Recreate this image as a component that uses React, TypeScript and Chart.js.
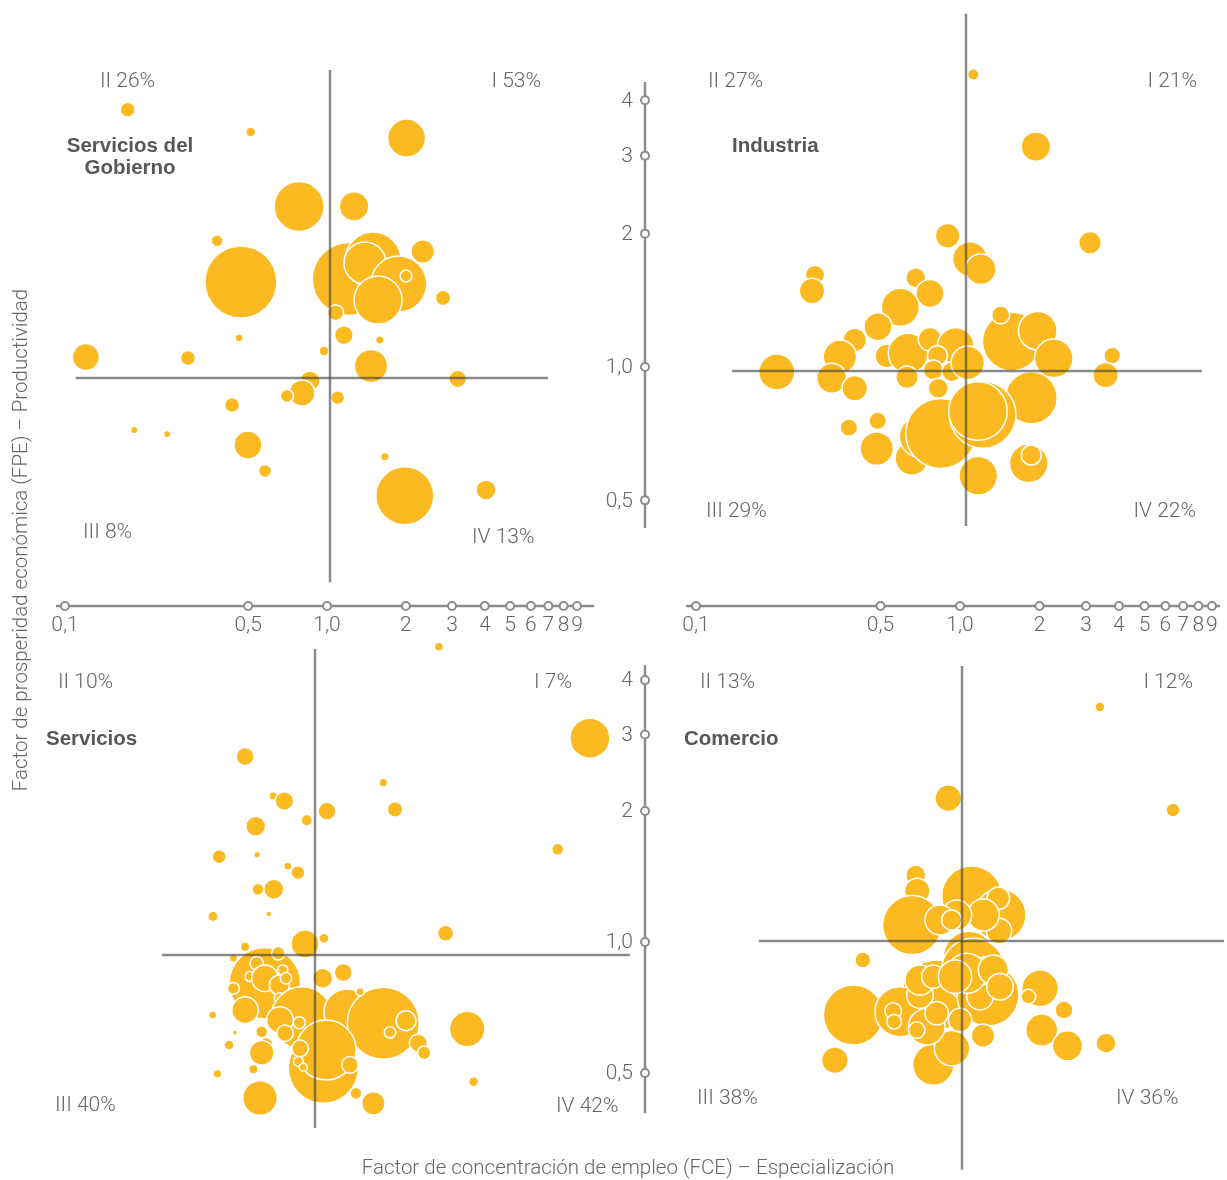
import React, { useEffect, useRef } from "react";
import { Chart, registerables } from "chart.js";

Chart.register(...registerables);

const W = 1227;
const H = 1180;

// ---------- DATA ----------
// Servicios del Gobierno
const gobiernoFCE = [0.169, 0.498, 1.96, 0.762, 1.235, 0.371, 2.26, 0.457, 1.18, 1.46, 1.36, 1.83, 1.525, 1.95, 1.05, 2.7, 1.13, 1.55, 0.45, 0.117, 0.287, 0.949, 1.434, 3.07, 0.839, 0.782, 0.685, 1.07, 0.423, 0.179, 0.239, 0.486, 0.565, 1.62, 1.93, 3.94];
const gobiernoFPE = [4.03, 3.59, 3.48, 2.44, 2.44, 2.04, 1.93, 1.647, 1.673, 1.846, 1.818, 1.63, 1.5, 1.7, 1.404, 1.516, 1.25, 1.218, 1.231, 1.115, 1.11, 1.15, 1.064, 0.995, 0.985, 0.925, 0.911, 0.903, 0.869, 0.763, 0.747, 0.706, 0.617, 0.664, 0.542, 0.559];
const gobiernoTam = [7.5, 5, 19, 25, 14.7, 6, 11.7, 36, 36.6, 28, 21, 28, 24, 6, 8, 7.7, 9.4, 4.3, 4, 13.5, 7.5, 5, 16.6, 8.7, 10, 13, 6.5, 7, 7.5, 3.7, 3.7, 14, 6.5, 4.3, 29, 10];
const gobiernoCuadrantes = ["I 53%", "II 26%", "III 8%", "IV 13%"];

// Industria
const industriaFCE = [1.066, 1.84, 0.852, 1.035, 1.137, 2.95, 0.268, 0.261, 0.645, 0.73, 0.564, 0.464, 0.379, 0.333, 0.31, 0.379, 0.192, 0.501, 0.604, 0.73, 0.914, 0.779, 0.598, 0.752, 0.883, 1.015, 0.785, 1.49, 1.353, 1.87, 2.15, 3.58, 3.38, 1.767, 0.463, 0.36, 0.459, 0.623, 0.67, 0.802, 1.157, 1.11, 1.113, 1.728, 1.767];
const industriaFPE = [4.67, 3.21, 2.02, 1.79, 1.697, 1.948, 1.647, 1.516, 1.624, 1.497, 1.393, 1.259, 1.175, 1.077, 0.963, 0.914, 0.995, 1.081, 1.096, 1.179, 1.139, 1.083, 0.968, 1.005, 0.996, 1.044, 0.914, 1.165, 1.338, 1.233, 1.068, 1.083, 0.979, 0.87, 0.772, 0.745, 0.668, 0.635, 0.711, 0.723, 0.796, 0.812, 0.58, 0.619, 0.646];
const industriaTam = [5.7, 14.7, 12.3, 17.3, 15.3, 11.3, 9.7, 12.7, 10, 14, 19, 14, 11.7, 16.7, 15, 12.7, 18, 11.7, 20, 11.7, 18.3, 10, 11.3, 10, 10, 16.7, 10, 29.3, 9, 19.3, 19.3, 8.3, 12.7, 26, 8.7, 8.7, 16.7, 16.7, 20.7, 35, 33.3, 29.3, 19.3, 19.3, 10];
const industriaCuadrantes = ["I 21%", "II 27%", "III 29%", "IV 22%"];

// Servicios
const serviciosFCE = [11.2, 2.97, 0.541, 0.693, 0.764, 1.111, 0.93, 1.823, 2.02, 0.594, 0.431, 0.602, 0.787, 0.861, 8.44, 0.606, 0.696, 0.408, 0.667, 3.15, 0.916, 1.082, 0.541, 0.488, 0.644, 0.599, 0.724, 0.565, 0.644, 0.731, 0.753, 0.775, 0.488, 0.735, 0.541, 1.07, 1.282, 0.943, 0.892, 1.325, 1.823, 2.225, 1.933, 1.485, 0.735, 0.871, 0.768, 0.626, 0.495, 0.407, 0.47, 0.65, 0.626, 0.582, 0.424, 0.617, 1.076, 1.102, 0.877, 0.864, 0.902, 1.36, 1.434, 1.67, 2.48, 2.61, 3.81, 4.03];
const serviciosFPE = [3.15, 5.11, 2.86, 2.32, 2.26, 2.14, 2.04, 2.49, 2.16, 1.976, 1.683, 1.701, 1.599, 1.546, 1.75, 1.416, 1.416, 1.227, 1.242, 1.122, 1.06, 1.092, 1.045, 0.983, 0.861, 0.957, 1.009, 0.892, 0.884, 0.853, 0.924, 0.884, 0.838, 0.795, 0.747, 0.884, 0.911, 0.795, 0.717, 0.74, 0.697, 0.706, 0.664, 0.823, 0.709, 0.699, 0.661, 0.666, 0.663, 0.728, 0.621, 0.624, 0.596, 0.546, 0.533, 0.469, 0.549, 0.605, 0.61, 0.569, 0.552, 0.559, 0.481, 0.456, 0.627, 0.596, 0.676, 0.511];
const serviciosTam = [20, 4.5, 9, 4.3, 9.3, 9, 5.7, 4.3, 7.7, 10, 7, 3.3, 4, 7, 6, 6, 10, 5.3, 3, 8, 14, 5, 4.7, 4, 35.7, 6.7, 6.7, 5, 13.3, 10, 5, 5.7, 6, 5.7, 13.3, 10, 9, 3.3, 31, 23, 36, 10, 5.7, 4, 13.3, 6, 8.3, 6, 2.7, 4, 5, 6.7, 12.3, 4.7, 4.3, 17.3, 35, 30, 8.3, 5, 4, 8.3, 6, 11.7, 9, 6.7, 17.7, 5];
const serviciosCuadrantes = ["I 7%", "II 10%", "III 40%", "IV 42%"];

// Comercio
const comercioFCE = [3.33, 6.3, 0.887, 0.668, 0.677, 0.647, 1.088, 1.393, 1.373, 1.381, 1.204, 0.955, 0.825, 0.914, 1.063, 0.421, 0.802, 1.104, 1.254, 1.24, 0.388, 0.582, 0.549, 0.553, 1.975, 1.783, 2.435, 2.004, 2.51, 0.33, 0.779, 0.917, 1.201, 0.735, 0.693, 0.802, 0.674, 0.983, 1.17, 1.042, 1.314, 1.393, 0.693, 0.779, 0.941, 3.51];
const comercioFPE = [3.45, 2.0, 2.13, 1.418, 1.303, 1.088, 1.269, 1.147, 1.254, 1.054, 1.147, 1.147, 1.118, 1.118, 0.92, 0.904, 0.751, 0.858, 0.751, 0.835, 0.676, 0.688, 0.69, 0.652, 0.778, 0.745, 0.694, 0.624, 0.574, 0.532, 0.52, 0.567, 0.606, 0.635, 0.751, 0.682, 0.624, 0.658, 0.745, 0.843, 0.858, 0.785, 0.813, 0.828, 0.828, 0.583];
const comercioTam = [5, 7, 13.3, 10, 12.7, 29.5, 30, 26, 11.3, 12.7, 16, 15, 15, 10, 25.5, 8, 35, 31.7, 31, 18.3, 30, 25, 8.3, 7.3, 18.3, 7.3, 9, 16, 15, 13.3, 20.7, 17.7, 11.7, 18.3, 13.3, 11.7, 8.3, 11.7, 13.3, 20, 15, 13.3, 15, 11.7, 16.7, 10];
const comercioCuadrantes = ["I 12%", "II 13%", "III 38%", "IV 36%"];

// Axis ticks
const xTicks = [0.1, 0.5, 1, 2, 3, 4, 5, 6, 7, 8, 9];
const xTickLabels = ["0,1", "0,5", "1,0", "2", "3", "4", "5", "6", "7", "8", "9"];
const yTicks = [4, 3, 2, 1, 0.5];
const yTickLabels = ["4", "3", "2", "1,0", "0,5"];

const xTitle = "Factor de concentración de empleo (FCE) – Especialización";
const yTitle = "Factor de prosperidad económica (FPE) – Productividad";

// ---------- LAYOUT / STYLE ----------
const BUBBLE = "#FBBA21";
const CROSS = "rgba(60,60,60,0.6)";
const AXIS = "#8c8c8c";
const TEXT = "#666666";
const TITLE = "#575757";
const LIGHT_FONT = '300 21px Roboto, "Liberation Sans", Arial, sans-serif';
const BOLD_FONT = 'bold 20.5px "Liberation Sans", Arial, sans-serif';
const AXIS_TITLE_FONT = '300 20.5px Roboto, "Liberation Sans", Arial, sans-serif';

// pixel anchor of value 1 and pixels per decade for each log scale
const xRange = (c: number, d: number) => ({ min: Math.pow(10, -c / d), max: Math.pow(10, (W - c) / d) });
const yRange = (c: number, d: number) => ({ min: Math.pow(10, (c - H) / d), max: Math.pow(10, c / d) });

type Panel = {
  id: string;
  title: string[];
  titlePos: [number, number, CanvasTextAlign];
  fce: number[];
  fpe: number[];
  tam: number[];
  quads: string[];
  quadPos: [number, number, CanvasTextAlign][];
  xs: { c: number; d: number };
  ys: { c: number; d: number };
  vLine: [number, number];
  hLine: [number, number];
};

const panels: Panel[] = [
  {
    id: "tl",
    title: ["Servicios del", "Gobierno"],
    titlePos: [130, 146, "center"],
    fce: gobiernoFCE, fpe: gobiernoFPE, tam: gobiernoTam, quads: gobiernoCuadrantes,
    quadPos: [[541, 82, "right"], [100, 82, "left"], [83, 533, "left"], [472, 538, "left"]],
    xs: { c: 330, d: 262 }, ys: { c: 378, d: 443 },
    vLine: [0.346, 4.96], hLine: [0.107, 6.79],
  },
  {
    id: "tr",
    title: ["Industria"],
    titlePos: [732, 146, "left"],
    fce: industriaFCE, fpe: industriaFPE, tam: industriaTam, quads: industriaCuadrantes,
    quadPos: [[1197, 82, "right"], [708, 82, "left"], [706, 512, "left"], [1196, 512, "right"]],
    xs: { c: 966, d: 264 }, ys: { c: 371, d: 443 },
    vLine: [0.447, 6.4], hLine: [0.13, 7.83],
  },
  {
    id: "bl",
    title: ["Servicios"],
    titlePos: [46, 739, "left"],
    fce: serviciosFCE, fpe: serviciosFPE, tam: serviciosTam, quads: serviciosCuadrantes,
    quadPos: [[572, 683, "right"], [58, 683, "left"], [55, 1106, "left"], [556, 1107, "left"]],
    xs: { c: 315, d: 262 }, ys: { c: 955, d: 435 },
    vLine: [0.4, 5.05], hLine: [0.261, 15.9],
  },
  {
    id: "br",
    title: ["Comercio"],
    titlePos: [684, 739, "left"],
    fce: comercioFCE, fpe: comercioFPE, tam: comercioTam, quads: comercioCuadrantes,
    quadPos: [[1193, 683, "right"], [700, 683, "left"], [697, 1099, "left"], [1116, 1099, "left"]],
    xs: { c: 962, d: 264 }, ys: { c: 941, d: 435 },
    vLine: [0.298, 4.29], hLine: [0.17, 9.83],
  },
];

// shared axes with tick circles
const axisRow = 606;
const axisCol = 645;
const xAxes = [
  { id: "axXL", c: 327, d: 262, span: [0.0924, 10.45] },
  { id: "axXR", c: 960, d: 264, span: [0.0917, 9.66] },
];
const yAxes = [
  { id: "axYT", c: 367, d: 443, span: [0.433, 4.4] },
  { id: "axYB", c: 942, d: 435, span: [0.404, 4.33] },
];

const decorPlugin = {
  id: "decor",
  afterDatasetsDraw(chart: any) {
    const ctx: CanvasRenderingContext2D = chart.ctx;
    const s = chart.scales;
    ctx.save();
    // axis lines
    ctx.strokeStyle = AXIS;
    ctx.lineWidth = 2.5;
    xAxes.forEach((a) => {
      const sc = s[a.id];
      ctx.beginPath();
      ctx.moveTo(sc.getPixelForValue(a.span[0]), axisRow);
      ctx.lineTo(sc.getPixelForValue(a.span[1]), axisRow);
      ctx.stroke();
    });
    yAxes.forEach((a) => {
      const sc = s[a.id];
      ctx.beginPath();
      ctx.moveTo(axisCol, sc.getPixelForValue(a.span[0]));
      ctx.lineTo(axisCol, sc.getPixelForValue(a.span[1]));
      ctx.stroke();
    });
    // tick circles + labels
    ctx.font = LIGHT_FONT;
    xAxes.forEach((a) => {
      const sc = s[a.id];
      xTicks.forEach((t, i) => {
        const px = sc.getPixelForValue(t);
        ctx.beginPath();
        ctx.arc(px, axisRow, 4, 0, Math.PI * 2);
        ctx.fillStyle = "#fff";
        ctx.fill();
        ctx.lineWidth = 2;
        ctx.strokeStyle = AXIS;
        ctx.stroke();
        ctx.fillStyle = TEXT;
        ctx.textAlign = "center";
        ctx.textBaseline = "middle";
        ctx.fillText(xTickLabels[i], px, axisRow + 20);
      });
    });
    yAxes.forEach((a) => {
      const sc = s[a.id];
      yTicks.forEach((t, i) => {
        const py = sc.getPixelForValue(t);
        ctx.beginPath();
        ctx.arc(axisCol, py, 4, 0, Math.PI * 2);
        ctx.fillStyle = "#fff";
        ctx.fill();
        ctx.lineWidth = 2;
        ctx.strokeStyle = AXIS;
        ctx.stroke();
        ctx.fillStyle = TEXT;
        ctx.textAlign = "right";
        ctx.textBaseline = "middle";
        ctx.fillText(yTickLabels[i], axisCol - 12, py + 1);
      });
    });
    // quadrant labels and titles
    panels.forEach((p) => {
      ctx.font = LIGHT_FONT;
      ctx.fillStyle = TEXT;
      ctx.textBaseline = "middle";
      p.quads.forEach((q, i) => {
        const [x, y, al] = p.quadPos[i];
        ctx.textAlign = al;
        ctx.fillText(q, x, y);
      });
      ctx.font = BOLD_FONT;
      ctx.fillStyle = TITLE;
      ctx.textAlign = p.titlePos[2];
      p.title.forEach((t, i) => ctx.fillText(t, p.titlePos[0], p.titlePos[1] + i * 22));
    });
    // axis titles
    ctx.font = AXIS_TITLE_FONT;
    ctx.fillStyle = TEXT;
    ctx.textAlign = "center";
    ctx.textBaseline = "middle";
    ctx.fillText(xTitle, 628, 1169);
    ctx.translate(22, 540);
    ctx.rotate(-Math.PI / 2);
    ctx.fillText(yTitle, 0, 0);
    ctx.restore();
  },
};

export default function App() {
  const ref = useRef<HTMLCanvasElement | null>(null);

  useEffect(() => {
    if (!ref.current) return;
    const scales: any = {};
    const datasets: any[] = [];
    panels.forEach((p) => {
      const xid = "x_" + p.id;
      const yid = "y_" + p.id;
      scales[xid] = { type: "logarithmic", axis: "x", position: "bottom", display: false, bounds: "data", ...xRange(p.xs.c, p.xs.d) };
      scales[yid] = { type: "logarithmic", axis: "y", position: "left", display: false, bounds: "data", ...yRange(p.ys.c, p.ys.d) };
      const pts = p.fce.map((x, i) => ({ x, y: p.fpe[i], r: p.tam[i] }));
      datasets.push({
        type: "bubble",
        data: pts,
        xAxisID: xid,
        yAxisID: yid,
        backgroundColor: BUBBLE,
        borderColor: "#ffffff",
        borderWidth: 1.5,
        order: 2,
        clip: false,
      });
      datasets.push({
        type: "line",
        data: [{ x: 1, y: p.vLine[0] }, { x: 1, y: p.vLine[1] }],
        xAxisID: xid, yAxisID: yid,
        borderColor: CROSS, borderWidth: 2.5, pointRadius: 0, fill: false, order: 1,
      });
      datasets.push({
        type: "line",
        data: [{ x: p.hLine[0], y: 1 }, { x: p.hLine[1], y: 1 }],
        xAxisID: xid, yAxisID: yid,
        borderColor: CROSS, borderWidth: 2.5, pointRadius: 0, fill: false, order: 1,
      });
    });
    xAxes.forEach((a) => {
      scales[a.id] = { type: "logarithmic", axis: "x", position: "bottom", display: false, bounds: "data", ...xRange(a.c, a.d) };
    });
    yAxes.forEach((a) => {
      scales[a.id] = { type: "logarithmic", axis: "y", position: "left", display: false, bounds: "data", ...yRange(a.c, a.d) };
    });

    const chart = new Chart(ref.current, {
      type: "bubble",
      data: { datasets },
      options: {
        responsive: false,
        animation: false,
        devicePixelRatio: 1,
        events: [],
        layout: { padding: 0, autoPadding: false },
        plugins: { legend: { display: false }, tooltip: { enabled: false }, title: { display: false } },
        scales,
      } as any,
      plugins: [decorPlugin],
    } as any);
    return () => chart.destroy();
  }, []);

  return (
    <div style={{ position: "absolute", left: 0, top: 0, width: W, height: H, background: "#fff" }}>
      <canvas ref={ref} width={W} height={H} style={{ display: "block", width: W, height: H }} />
    </div>
  );
}
